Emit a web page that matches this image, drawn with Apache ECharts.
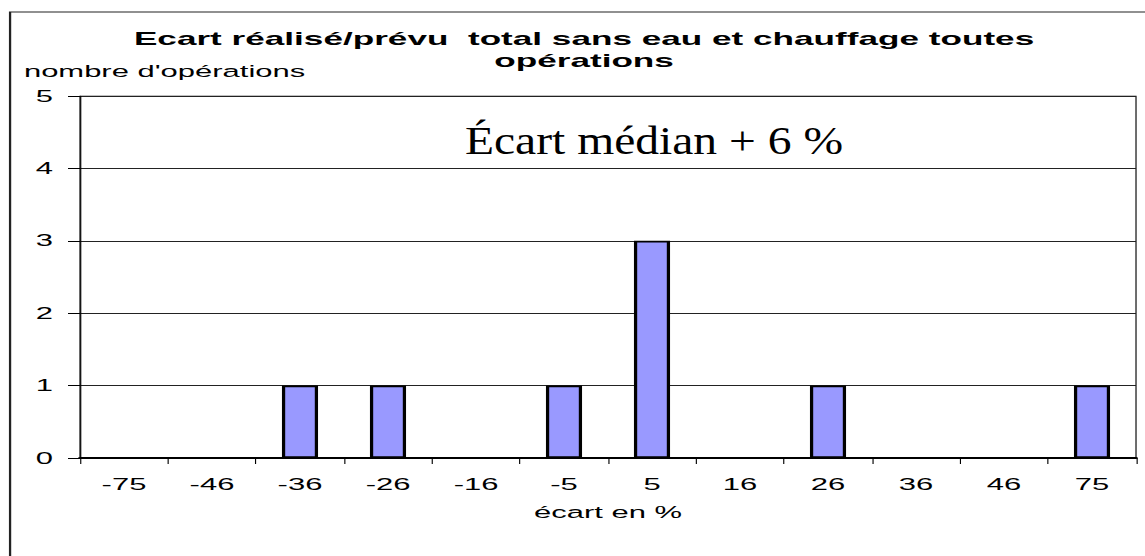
<!DOCTYPE html>
<html>
<head>
<meta charset="utf-8">
<title>Ecart réalisé/prévu</title>
<script src="https://cdn.jsdelivr.net/npm/echarts/dist/echarts.min.js"></script>
<style>
  html, body { margin: 0; padding: 0; background: #fff; overflow: hidden; }
  /* le graphique d'origine est étiré horizontalement */
  #main { width: 603px; height: 556px; transform: scaleX(1.9); transform-origin: 0 0; }
</style>
</head>
<body>
<div id="main"></div>
<script>
// données
var categories = ['-75', '-46', '-36', '-26', '-16', '-5', '5', '16', '26', '36', '46', '75'];
var counts = [0, 0, 1, 1, 0, 1, 3, 0, 1, 0, 0, 1];
var yMin = 0;
var yMax = 5;
var yStep = 1;

var sans = 'Liberation Sans, Arial, sans-serif';
var serif = 'Liberation Serif, Times New Roman, serif';

var myChart = echarts.init(document.getElementById('main'), null, { renderer: 'svg' });

var option = {
  backgroundColor: '#fff',
  animation: false,
  grid: {
    left: 42.1,
    right: 5.1,
    top: 96,
    bottom: 98,
    show: true,
    borderColor: '#000',
    borderWidth: 0.6
  },
  graphic: [
    {
      type: 'rect',
      shape: { x: 5.3, y: 12, width: 700, height: 700 },
      style: { fill: 'none', stroke: '#222', lineWidth: 1.2 },
      silent: true
    },
    {
      type: 'text',
      x: 307.4,
      y: 39,
      style: {
        text: 'Ecart réalisé/prévu  total sans eau et chauffage toutes',
        font: 'bold 18.5px ' + sans,
        fill: '#000',
        align: 'center',
        verticalAlign: 'middle'
      }
    },
    {
      type: 'text',
      x: 307.4,
      y: 61,
      style: {
        text: 'opérations',
        font: 'bold 18.5px ' + sans,
        fill: '#000',
        align: 'center',
        verticalAlign: 'middle'
      }
    },
    {
      type: 'text',
      x: 12.6,
      y: 71.5,
      style: {
        text: "nombre d'opérations",
        font: '16.3px ' + sans,
        fill: '#000',
        align: 'left',
        verticalAlign: 'middle'
      }
    },
    {
      type: 'text',
      x: 344.2,
      y: 141,
      scaleX: 0.642,
      z: 10,
      style: {
        text: 'Écart médian + 6 %',
        font: '39px ' + serif,
        fill: '#000',
        align: 'center',
        verticalAlign: 'middle'
      }
    }
  ],
  xAxis: {
    type: 'category',
    data: categories,
    boundaryGap: true,
    name: 'écart en %',
    nameLocation: 'middle',
    nameGap: 46,
    nameTextStyle: { fontFamily: sans, fontSize: 16.3, color: '#000' },
    axisLine: { show: true, lineStyle: { color: '#000', width: 2 } },
    axisTick: { show: true, interval: 0, length: 6, lineStyle: { color: '#000', width: 0.6 } },
    axisLabel: { interval: 0, margin: 18, fontFamily: sans, fontSize: 16.3, color: '#000' },
    splitLine: { show: false }
  },
  yAxis: {
    type: 'value',
    min: yMin,
    max: yMax,
    interval: yStep,
    axisLine: { show: true, lineStyle: { color: '#000', width: 0.6 } },
    axisTick: { show: true, length: 6.3, lineStyle: { color: '#000', width: 1 } },
    axisLabel: { margin: 14.2, fontFamily: sans, fontSize: 16.3, color: '#000' },
    splitLine: { show: true, lineStyle: { color: '#222', width: 1 } }
  },
  series: [
    {
      type: 'bar',
      data: counts,
      barWidth: '41%',
      itemStyle: { color: '#9999ff', borderColor: '#000', borderWidth: 1.7 }
    }
  ]
};

myChart.setOption(option);
window.onresize = function() {
  myChart.resize();
};
</script>
</body>
</html>
